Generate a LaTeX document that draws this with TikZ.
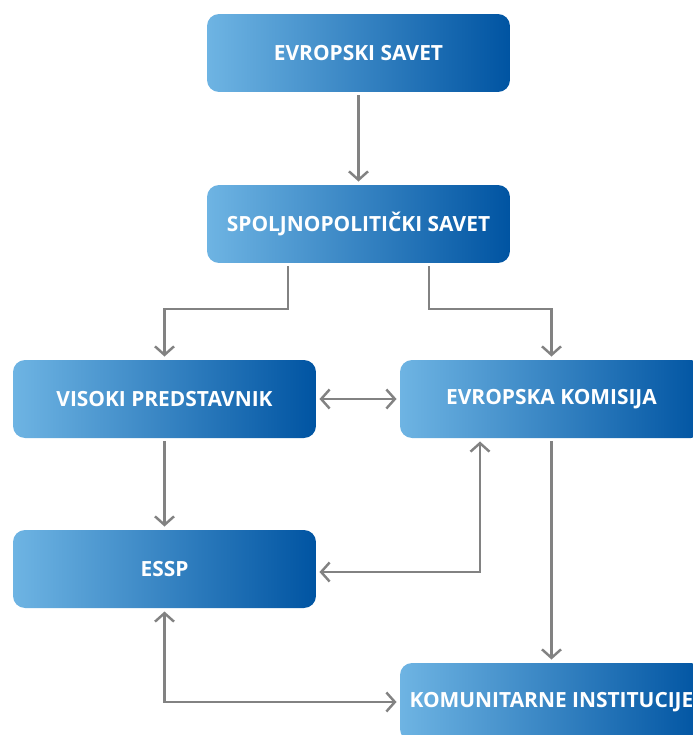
\documentclass[tikz,border=0pt]{standalone}
\usepackage{fontspec}
\setmainfont{Open Sans}
\usepackage{tikz}
\usetikzlibrary{arrows.meta}

\definecolor{boxlight}{RGB}{110,180,227}
\definecolor{boxmid}{RGB}{0,127,198}
\definecolor{boxdark}{RGB}{0,84,162}
\definecolor{linegray}{RGB}{130,130,130}

\tikzset{
    box/.style={rounded corners=0.24cm, left color=boxlight, middle color=boxmid, right color=boxdark,
        minimum width=6.06cm, minimum height=1.56cm, outer sep=0.07cm, text=white,
        font=\bfseries\fontsize{11.9}{13}\selectfont},
    arr/.style={draw=linegray, line width=1.4pt, -{Straight Barb[length=0.17cm, width=0.38cm]}},
    dbl/.style={arr, {Straight Barb[length=0.17cm, width=0.38cm]}-{Straight Barb[length=0.17cm, width=0.38cm]}}
}

\begin{document}
\begin{tikzpicture}[x=0.02cm, y=-0.02cm]
                \path[use as bounding box, clip] (0, 0) rectangle (693, 735);

                \node[box] (ES) at (358.5, 53) {EVROPSKI SAVET};
                \node[box] (SS) at (358.5, 224) {SPOLJNOPOLITIČKI SAVET};
                \node[box] (VP) at (164.5, 399) {VISOKI PREDSTAVNIK};
                \node[box] (EK) at (551.5, 399) {EVROPSKA KOMISIJA};
                \node[box] (ESSP) at (164.5, 569) {ESSP};
                \node[box] (KI) at (551.5, 702) {KOMUNITARNE INSTITUCIJE};

                \draw[arr] (ES) -- (SS);
                \draw[arr] (SS.south -| 288, 0) |- (226, 309) -| (VP.north);
                \draw[arr] (SS.south -| 429, 0) |- (490, 309) -| (EK.north);

                \draw[dbl] (VP) -- (EK);
                \draw[arr] (VP) -- (ESSP);
                \draw[dbl] (ESSP.east |- 0, 572) -| (EK.south -| 480, 0);

                \draw[arr] (EK) -- (KI);
                \draw[dbl] (ESSP.south) |- (KI.west);
            \end{tikzpicture}
\end{document}
